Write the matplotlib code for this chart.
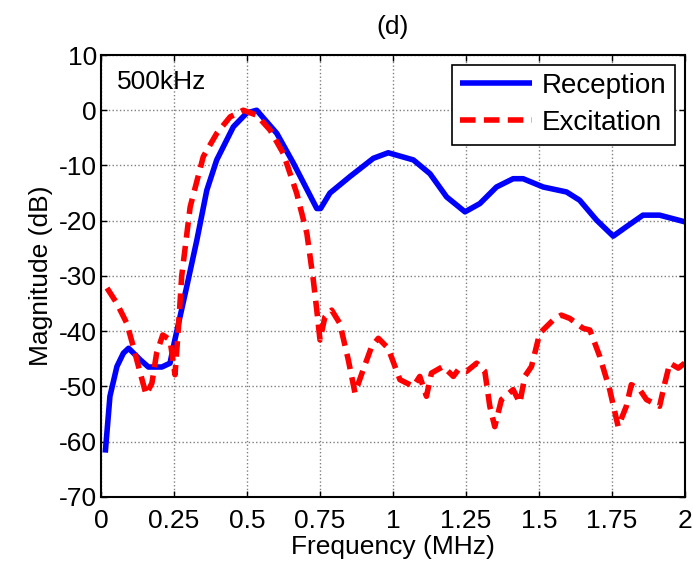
import matplotlib
matplotlib.use("Agg")
import matplotlib.pyplot as plt

plt.rcParams['font.family'] = ['Liberation Sans', 'DejaVu Sans']
plt.rcParams['axes.unicode_minus'] = False

# Reception spectrum (blue)
rec_f = [0.014, 0.03, 0.054, 0.076, 0.094, 0.134, 0.162, 0.208, 0.236, 0.25,
         0.293, 0.328, 0.362, 0.396, 0.453, 0.499, 0.533, 0.602, 0.659, 0.739,
         0.752, 0.784, 0.853, 0.933, 0.984, 1.07, 1.127, 1.184, 1.247, 1.298,
         1.355, 1.412, 1.446, 1.515, 1.595, 1.64, 1.698, 1.755, 1.8, 1.857,
         1.914, 2.0]
rec_db = [-62, -51.8, -46.4, -44, -43.1, -45.2, -46.5, -46.5, -45.8, -42.2,
          -32, -23.5, -14.5, -9, -3, -0.5, 0, -4.2, -9.6, -17.8,
          -17.8, -15, -12, -8.7, -7.7, -9, -11.5, -15.7, -18.4, -16.9,
          -13.9, -12.4, -12.4, -13.9, -14.8, -16.3, -19.9, -22.8, -21.1, -19,
          -19, -20.2]

# Excitation spectrum (red dashed)
exc_f = [0.02, 0.054, 0.088, 0.11, 0.134, 0.154, 0.174, 0.19, 0.211, 0.236,
         0.253, 0.265, 0.276, 0.305, 0.35, 0.396, 0.442, 0.487, 0.533, 0.579,
         0.624, 0.67, 0.705, 0.727, 0.739, 0.75, 0.767, 0.79, 0.818, 0.847,
         0.87, 0.898, 0.927, 0.95, 0.978, 0.99, 1.024, 1.07, 1.092, 1.115,
         1.132, 1.172, 1.207, 1.224, 1.252, 1.287, 1.315, 1.332, 1.349, 1.372,
         1.412, 1.435, 1.452, 1.475, 1.503, 1.549, 1.577, 1.606, 1.652, 1.675,
         1.709, 1.743, 1.772, 1.8, 1.817, 1.846, 1.869, 1.914, 1.932, 1.949,
         1.978, 2.0]
exc_db = [-32.2, -35, -38.6, -42.8, -47.6, -51.5, -49.4, -44, -40.7, -41.6,
          -47.9, -39.2, -30, -17.5, -8.4, -4.2, -1.2, 0, -0.9, -3.6,
          -7.8, -15, -22.3, -30.7, -36.2, -41.6, -37.4, -36.2, -38.6, -45.2,
          -51.2, -47, -42.8, -41.3, -42.8, -44, -48.8, -50, -48.2, -51.8,
          -47.6, -46.4, -48.2, -47, -47.3, -45.8, -47.3, -53.6, -57.3, -52.4,
          -50.6, -53, -48.2, -46.4, -40.4, -38, -37.1, -37.7, -39.5, -39.8,
          -44.6, -50.6, -57.3, -53.6, -49.7, -50.6, -52.4, -53.6, -49.4, -45.8,
          -46.7, -45.8]

xticks = [0, 0.25, 0.5, 0.75, 1, 1.25, 1.5, 1.75, 2]
xticklabels = ["0", "0.25", "0.5", "0.75", "1", "1.25", "1.5", "1.75", "2"]
yticks = [-70, -60, -50, -40, -30, -20, -10, 0, 10]

fs = 19

fig = plt.figure(figsize=(6.93, 5.73), dpi=100)
ax = fig.add_axes([0.146, 0.133, 0.842, 0.771])

ax.plot(rec_f, rec_db, color="#0000ff", lw=4, solid_joinstyle="round",
        solid_capstyle="butt", label="Reception")
ax.plot(exc_f, exc_db, color="#ff0000", lw=4, linestyle=(0, (2.8, 1.5)),
        dash_joinstyle="round", label="Excitation")

ax.set_xlim(0, 2)
ax.set_ylim(-70, 10)
ax.set_xticks(xticks)
ax.set_xticklabels(xticklabels)
ax.set_yticks(yticks)
ax.tick_params(direction="in", length=4, width=1, top=True, right=True,
               labelsize=fs)
ax.tick_params(axis="x", pad=9)
ax.tick_params(axis="y", pad=3)
ax.grid(True, color="#808080", linestyle=":", linewidth=1)
for sp in ax.spines.values():
    sp.set_linewidth(1.5)

ax.set_xlabel("Frequency (MHz)", fontsize=fs, labelpad=1)
ax.set_ylabel("Magnitude (dB)", fontsize=fs, labelpad=4)
ax.set_title("(d)", fontsize=fs, pad=15)

ax.text(0.027, 0.94, "500kHz", transform=ax.transAxes, fontsize=fs,
        ha="left", va="center")

leg = ax.legend(loc="upper right", fontsize=20, fancybox=False,
                edgecolor="black", framealpha=1, handlelength=2.6,
                borderpad=0.3, labelspacing=0.4, handletextpad=0.35,
                borderaxespad=0.35)
leg.get_frame().set_linewidth(1.2)

fig.savefig("out.png", dpi=100)
